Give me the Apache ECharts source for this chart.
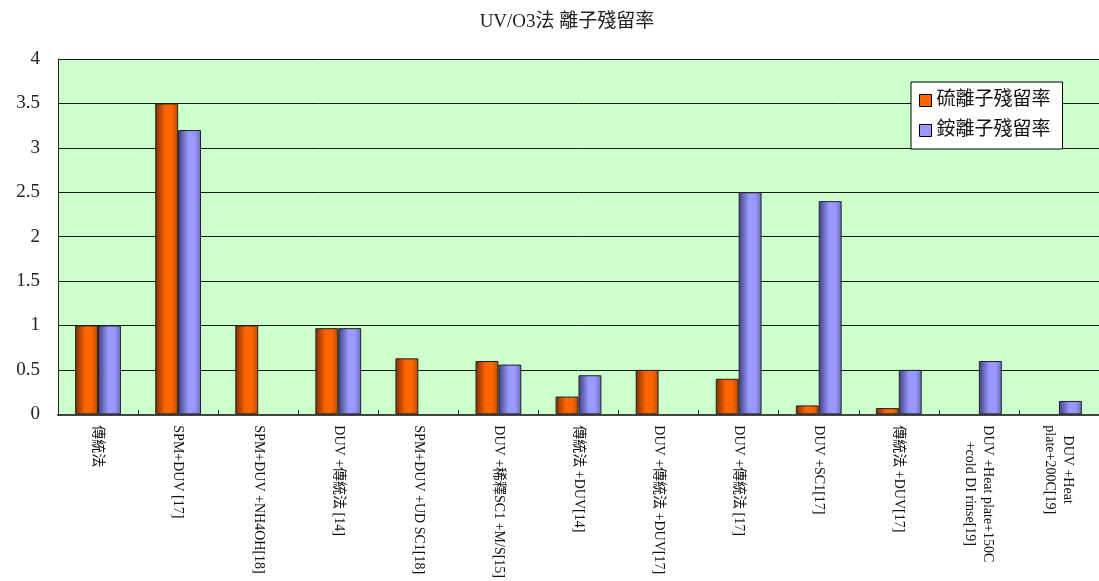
<!DOCTYPE html>
<html>
<head>
<meta charset="utf-8">
<script src="https://cdn.jsdelivr.net/npm/echarts@6/dist/echarts.min.js"></script>
<style>
  html, body { margin: 0; padding: 0; background: #fff; }
  #chart { width: 1099px; height: 581px; }
</style>
</head>
<body>
<div id="chart"></div>
<script>
// Process conditions (x axis)
var categories = [
  '傳統法',
  'SPM+DUV [17]',
  'SPM+DUV +NH4OH[18]',
  'DUV +傳統法 [14]',
  'SPM+DUV +UD SC1[18]',
  'DUV +稀釋SC1 +M/S[15]',
  '傳統法 +DUV[14]',
  'DUV +傳統法 +DUV[17]',
  'DUV +傳統法 [17]',
  'DUV +SC1[17]',
  '傳統法 +DUV[17]',
  'DUV +Heat plate+150C\n+cold DI rinse[19]',
  'DUV +Heat\nplate+200C[19]'
];

// Residual ratios (null = not measured)
var sulfateResidual = [1.0, 3.5, 1.0, 0.97, 0.63, 0.6, 0.2, 0.5, 0.4, 0.1, 0.07, null, null];
var ammoniumResidual = [1.0, 3.2, null, 0.97, null, 0.56, 0.44, null, 2.5, 2.4, 0.5, 0.6, 0.15];

var seriesNames = ['硫離子殘留率', '銨離子殘留率'];
var yTicks = [0, 0.5, 1, 1.5, 2, 2.5, 3, 3.5, 4];

var serifFont = "'Liberation Serif', 'Noto Sans CJK TC', serif";

function shade(dark, mid, right) {
  return new echarts.graphic.LinearGradient(0, 0, 1, 0, [
    { offset: 0, color: dark },
    { offset: 0.45, color: mid },
    { offset: 0.72, color: mid },
    { offset: 1, color: right }
  ]);
}

var chart = echarts.init(document.getElementById('chart'), null, { renderer: 'canvas' });

chart.setOption({
  animation: false,
  backgroundColor: '#ffffff',
  title: {
    text: 'UV/O3法 離子殘留率',
    left: 562,
    textAlign: 'center',
    top: 8,
    textStyle: { fontFamily: serifFont, fontSize: 19, fontWeight: 'normal', color: '#222' }
  },
  legend: {
    orient: 'vertical',
    left: 911,
    top: 82,
    padding: [9, 12, 9, 8],
    itemGap: 11,
    itemWidth: 12,
    itemHeight: 12,
    backgroundColor: '#ffffff',
    borderColor: '#000',
    borderWidth: 1,
    icon: 'rect',
    textStyle: { fontFamily: serifFont, fontSize: 19, color: '#111' },
    data: [
      { name: seriesNames[0], itemStyle: { color: '#ff6600', borderColor: '#000', borderWidth: 1 } },
      { name: seriesNames[1], itemStyle: { color: '#9999ff', borderColor: '#000', borderWidth: 1 } }
    ]
  },
  grid: {
    show: true,
    left: 58,
    top: 59,
    width: 1049,
    height: 358,
    backgroundColor: '#ccffcc',
    borderWidth: 0,
    containLabel: false
  },
  xAxis: {
    type: 'category',
    data: categories,
    axisLine: { show: true, lineStyle: { color: '#444', width: 2 } },
    axisTick: { show: true, inside: true, length: 4, lineStyle: { color: '#222' } },
    axisLabel: {
      interval: 0,
      rotate: -90,
      margin: 11,
      fontFamily: serifFont,
      fontSize: 14,
      color: '#111',
      lineHeight: 18,
      formatter: function (v) {
        return v.split('\n').map(function (s) { return '{c|' + s + '}'; }).join('\n');
      },
      rich: { c: { align: 'center', fontFamily: serifFont, fontSize: 14, color: '#111', lineHeight: 18 } }
    }
  },
  yAxis: {
    type: 'value',
    min: 0,
    max: 4,
    interval: 0.5,
    axisLine: { show: true, lineStyle: { color: '#222', width: 1 } },
    axisTick: { show: false },
    splitLine: { show: true, lineStyle: { color: '#1a1a1a', width: 1 } },
    axisLabel: {
      margin: 18,
      fontFamily: serifFont,
      fontSize: 19,
      color: '#222',
      formatter: function (v) { return yTicks.indexOf(v) >= 0 ? String(v) : ''; }
    }
  },
  series: [
    {
      name: seriesNames[0],
      type: 'bar',
      data: sulfateResidual,
      barGap: '0%',
      barCategoryGap: '42.8%',
      itemStyle: {
        color: shade('#7a2e00', '#ff6600', '#b84a00'),
        borderColor: '#222',
        borderWidth: 1
      }
    },
    {
      name: seriesNames[1],
      type: 'bar',
      data: ammoniumResidual,
      barGap: '0%',
      barCategoryGap: '42.8%',
      itemStyle: {
        color: shade('#3f3f80', '#9999ff', '#6a6abb'),
        borderColor: '#222',
        borderWidth: 1
      }
    }
  ]
});
</script>
</body>
</html>
